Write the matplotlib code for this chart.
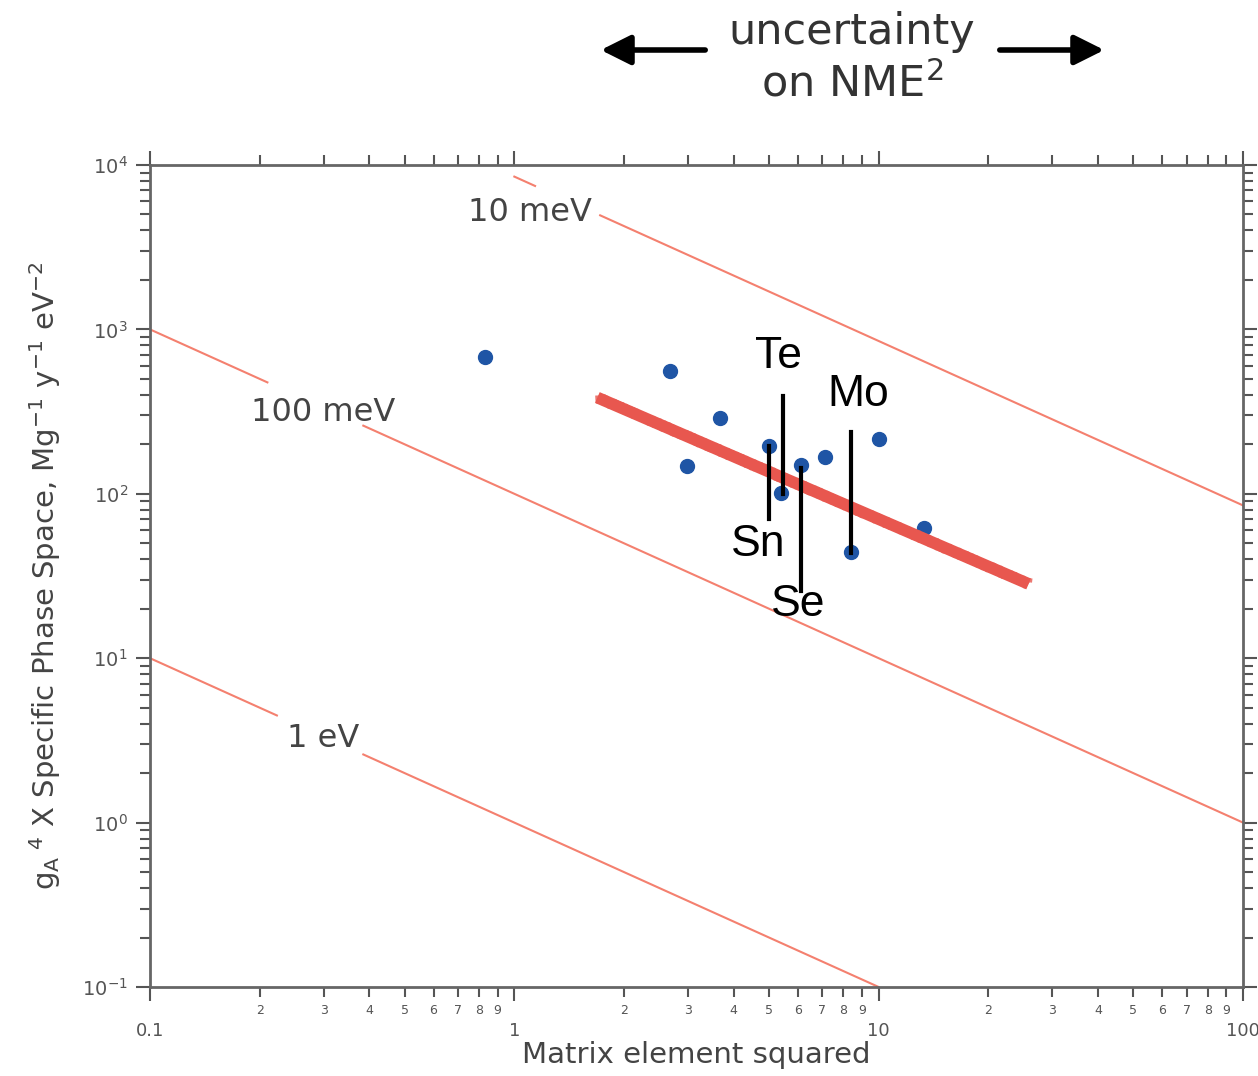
import matplotlib
matplotlib.use("Agg")
import matplotlib.pyplot as plt
from matplotlib.patches import FancyArrowPatch
from matplotlib.ticker import FixedLocator, FuncFormatter, NullFormatter
import numpy as np

# measured points: matrix element squared vs phase space
me2 = [0.83, 2.67, 2.97, 3.66, 4.99, 5.38, 6.11, 7.11, 8.38, 10.0, 13.3]
psp = [684, 555, 148, 290, 196, 101, 150, 168, 44, 216, 62]

# NME^2 spread for some isotopes
nuclei = ["Te", "Sn", "Se", "Mo"]
nuc_x = [5.45, 4.99, 6.14, 8.41]
nuc_lo = [100, 70, 25.6, 43.6]
nuc_hi = [396, 196, 144, 239]

# hand drawn trend
fit_x = [1.69, 25.8]
fit_y = [385, 28.3]

# constant mass lines y = k / x
mass_labels = ["10 meV", "100 meV", "1 eV"]
mass_k = [8.5e3, 100, 1]
mass_segs = [[(1.0, 1.14), (1.72, 100)],
             [(0.1, 0.21), (0.385, 100)],
             [(0.1, 0.223), (0.385, 10)]]

grey = "#555555"

fig = plt.figure(figsize=(12.58, 10.76), dpi=100)
ax = fig.add_axes([150/1258, 1-987/1076, (1243-150)/1258, (987-165)/1076])
ax.set_xscale("log")
ax.set_yscale("log")
ax.set_xlim(0.1, 100)
ax.set_ylim(0.1, 1e4)

for k, segs in zip(mass_k, mass_segs):
    for a, b in segs:
        xs = np.array([a, b])
        ax.plot(xs, k/xs, color="#f4806f", lw=1.5, zorder=2)

lab_pos = [(1.107, 5170), (0.299, 312), (0.299, 3.25)]
for t, (px, py) in zip(mass_labels, lab_pos):
    ax.text(px, py, t, ha="center", va="center", fontsize=23, color="#444444")

ax.plot(me2, psp, "o", color="#1f55a5", ms=10, zorder=3)

ax.plot(fit_x, fit_y, color="#e8574f", lw=8.5, solid_capstyle="butt", zorder=4)
fl, = ax.plot(fit_x, fit_y, color="#e8574f", lw=3, alpha=0.8, zorder=4)
fl.set_sketch_params(scale=4, length=3, randomness=4)

for x, lo, hi in zip(nuc_x, nuc_lo, nuc_hi):
    ax.plot([x, x], [lo, hi], color="black", lw=3, zorder=5)

nuc_pos = [(5.31, 684), (4.68, 49.5), (6.03, 21.3), (8.81, 402)]
for t, (px, py) in zip(nuclei, nuc_pos):
    ax.text(px, py, t, ha="center", va="center", fontsize=32, color="black",
            family=["Liberation Sans", "DejaVu Sans"], zorder=6)

# axes styling
for s in ax.spines.values():
    s.set_color("#666666")
    s.set_linewidth(2)

ax.xaxis.set_major_locator(FixedLocator([0.1, 1, 10, 100]))
ax.xaxis.set_major_formatter(FuncFormatter(lambda v, p: "%g" % v))
minor_x = [m*10.0**e for e in (-1, 0, 1) for m in range(2, 10)]
ax.xaxis.set_minor_locator(FixedLocator(minor_x))
ax.xaxis.set_minor_formatter(FuncFormatter(lambda v, p: "%d" % round(v/10**np.floor(np.log10(v)+1e-9))))
ax.yaxis.set_major_locator(FixedLocator([0.1, 1, 10, 100, 1000, 1e4]))
ax.yaxis.set_major_formatter(FuncFormatter(lambda v, p: r"$10^{%d}$" % round(np.log10(v))))
minor_y = [m*10.0**e for e in range(-1, 4) for m in range(2, 10)]
ax.yaxis.set_minor_locator(FixedLocator(minor_y))
ax.yaxis.set_minor_formatter(NullFormatter())

ax.tick_params(which="both", direction="out", color="#555555", width=1.5,
               top=True, right=True, labelcolor=grey)
ax.tick_params(which="major", length=10)
ax.tick_params(which="minor", length=7)
ax.tick_params(axis="x", which="major", labelsize=13, pad=15)
ax.tick_params(axis="x", which="minor", labelsize=9, pad=5)
ax.tick_params(axis="y", which="major", labelsize=14, pad=6)

ax.set_xlabel("Matrix element squared", fontsize=21, color="#444444", labelpad=1)
ax.set_ylabel(r"$\mathrm{g_A}^{\ 4}$ X Specific Phase Space, Mg$^{-1}$ y$^{-1}$ eV$^{-2}$",
              fontsize=21, color="#444444", labelpad=14)

# header with arrows
fig.text(852/1258, 1-32/1076, "uncertainty", ha="center", va="center",
         fontsize=31, color="#333333")
fig.text(852/1258, 1-84/1076, "on NME$^2$", ha="center", va="center",
         fontsize=31, color="#333333")
arr = dict(arrowstyle="-|>,head_length=0.9,head_width=0.45", color="black", lw=4)
fig.add_artist(FancyArrowPatch((708/1258, 1-50/1076), (598/1258, 1-50/1076),
               transform=fig.transFigure, mutation_scale=20, **arr))
fig.add_artist(FancyArrowPatch((997/1258, 1-50/1076), (1107/1258, 1-50/1076),
               transform=fig.transFigure, mutation_scale=20, **arr))

fig.savefig("out.png", dpi=100)
